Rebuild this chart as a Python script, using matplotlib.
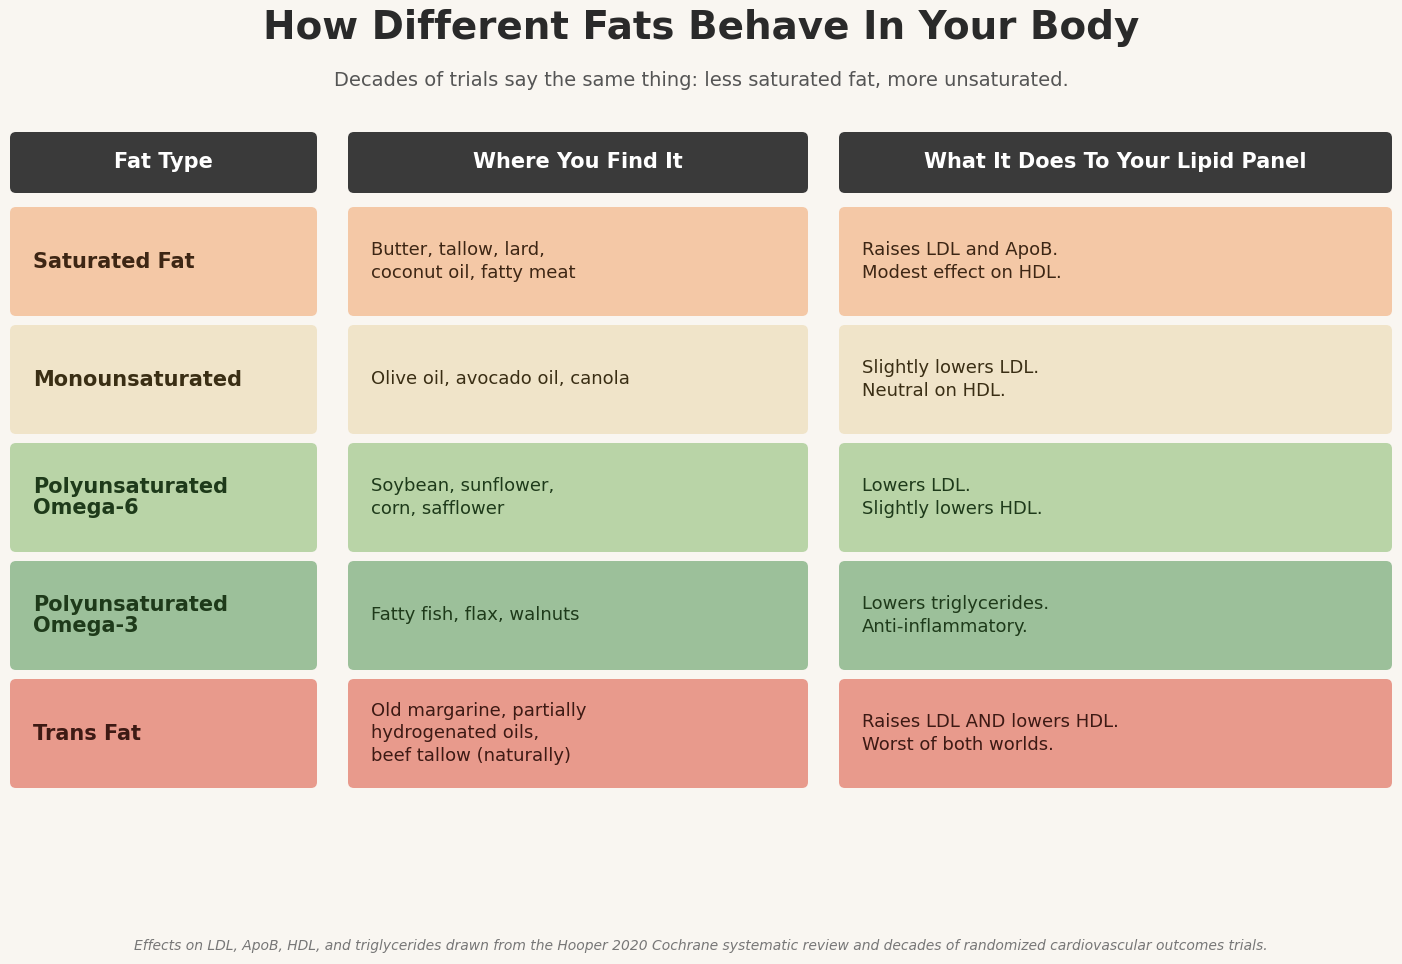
import matplotlib
matplotlib.use("Agg")
import matplotlib.pyplot as plt
from matplotlib.patches import FancyBboxPatch

headers = ["Fat Type", "Where You Find It", "What It Does To Your Lipid Panel"]
fat_types = ["Saturated Fat", "Monounsaturated", "Polyunsaturated\nOmega-6",
             "Polyunsaturated\nOmega-3", "Trans Fat"]
sources = ["Butter, tallow, lard,\ncoconut oil, fatty meat",
           "Olive oil, avocado oil, canola",
           "Soybean, sunflower,\ncorn, safflower",
           "Fatty fish, flax, walnuts",
           "Old margarine, partially\nhydrogenated oils,\nbeef tallow (naturally)"]
effects = ["Raises LDL and ApoB.\nModest effect on HDL.",
           "Slightly lowers LDL.\nNeutral on HDL.",
           "Lowers LDL.\nSlightly lowers HDL.",
           "Lowers triglycerides.\nAnti-inflammatory.",
           "Raises LDL AND lowers HDL.\nWorst of both worlds."]
row_colors = ["#f4c8a6", "#f0e4c9", "#b9d4a7", "#9cc09a", "#e89a8c"]
text_colors = ["#3d2614", "#3a2e14", "#1e3a1a", "#1e3a1a", "#3d1a14"]

W, H = 1402, 964
fig = plt.figure(figsize=(W/100, H/100), dpi=100, facecolor="#f9f6f1")
ax = fig.add_axes([0, 0, 1, 1])
ax.set_xlim(0, W); ax.set_ylim(H, 0); ax.axis("off")

cols = [(10, 317), (348, 808), (839, 1392)]

def box(x0, x1, y0, y1, color):
    ax.add_patch(FancyBboxPatch((x0, y0), x1-x0, y1-y0,
                 boxstyle="round,pad=0,rounding_size=6", fc=color, ec="none"))

ax.text(W/2, 28, "How Different Fats Behave In Your Body", ha="center", va="center",
        fontsize=28, fontweight="bold", color="#2a2a2a")
ax.text(W/2, 80, "Decades of trials say the same thing: less saturated fat, more unsaturated.",
        ha="center", va="center", fontsize=14, color="#555555")

for (x0, x1), h in zip(cols, headers):
    box(x0, x1, 132, 193, "#3a3a3a")
    ax.text((x0+x1)/2, 162.5, h, ha="center", va="center", fontsize=15,
            fontweight="bold", color="white")

for i in range(len(fat_types)):
    y0 = 207 + i*118; y1 = y0 + 109; yc = (y0+y1)/2
    for (x0, x1) in cols:
        box(x0, x1, y0, y1, row_colors[i])
    ax.text(cols[0][0]+23, yc, fat_types[i], ha="left", va="center", fontsize=15,
            fontweight="bold", color=text_colors[i], linespacing=1.1)
    ax.text(cols[1][0]+23, yc, sources[i], ha="left", va="center", fontsize=13,
            color=text_colors[i], linespacing=1.3)
    ax.text(cols[2][0]+23, yc, effects[i], ha="left", va="center", fontsize=13,
            color=text_colors[i], linespacing=1.3)

ax.text(W/2, 946, "Effects on LDL, ApoB, HDL, and triglycerides drawn from the Hooper 2020 Cochrane "
        "systematic review and decades of randomized cardiovascular outcomes trials.",
        ha="center", va="center", fontsize=10, style="italic", color="#777777")

fig.savefig("out.png", dpi=100, facecolor=fig.get_facecolor())
